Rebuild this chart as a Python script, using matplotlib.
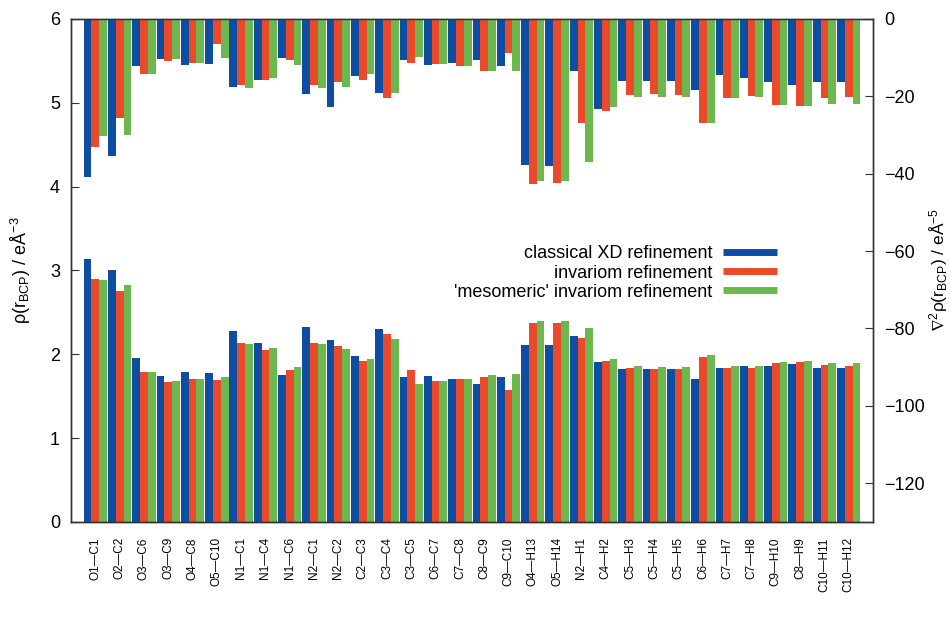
import numpy as np
import matplotlib
matplotlib.use("Agg")
import matplotlib.pyplot as plt
from matplotlib.lines import Line2D

plt.rcParams['font.family'] = ['Liberation Sans', 'DejaVu Sans']
plt.rcParams['mathtext.fontset'] = 'custom'
plt.rcParams['mathtext.rm'] = 'Liberation Sans'
plt.rcParams['mathtext.it'] = 'Liberation Sans:italic'
plt.rcParams['mathtext.fallback'] = 'stixsans'

bonds = ['O1—C1', 'O2—C2', 'O3—C6', 'O3—C9', 'O4—C8', 'O5—C10', 'N1—C1', 'N1—C4',
         'N1—C6', 'N2—C1', 'N2—C2', 'C2—C3', 'C3—C4', 'C3—C5', 'C6—C7', 'C7—C8',
         'C8—C9', 'C9—C10', 'O4—H13', 'O5—H14', 'N2—H1', 'C4—H2', 'C5—H3', 'C5—H4',
         'C5—H5', 'C6—H6', 'C7—H7', 'C7—H8', 'C9—H10', 'C8—H9', 'C10—H11', 'C10—H12']

# electron density at the bond critical point (e/Å^3)
rho_xd = [3.13, 3.00, 1.95, 1.74, 1.79, 1.77, 2.28, 2.13, 1.75, 2.32, 2.17, 1.98, 2.30, 1.73,
          1.74, 1.71, 1.65, 1.73, 2.11, 2.11, 2.22, 1.91, 1.82, 1.82, 1.82, 1.71, 1.84, 1.86,
          1.86, 1.88, 1.83, 1.84]
rho_inv = [2.90, 2.75, 1.79, 1.67, 1.70, 1.69, 2.13, 2.05, 1.81, 2.13, 2.10, 1.92, 2.24, 1.81,
           1.68, 1.71, 1.73, 1.57, 2.37, 2.37, 2.19, 1.92, 1.83, 1.82, 1.82, 1.97, 1.84, 1.84,
           1.90, 1.91, 1.87, 1.86]
rho_meso = [2.88, 2.83, 1.79, 1.68, 1.70, 1.73, 2.12, 2.07, 1.85, 2.12, 2.06, 1.94, 2.18, 1.64,
            1.68, 1.70, 1.75, 1.76, 2.39, 2.39, 2.31, 1.94, 1.86, 1.85, 1.85, 1.99, 1.86, 1.86,
            1.91, 1.92, 1.90, 1.90]

# Laplacian at the bond critical point (e/Å^5)
lap_xd = [-41.0, -35.5, -12.1, -10.5, -11.9, -11.8, -17.6, -15.8, -10.2, -19.5, -22.8, -14.9,
          -19.2, -10.6, -11.9, -11.4, -10.6, -12.3, -37.7, -38.0, -13.4, -23.3, -16.0, -16.0,
          -16.0, -18.5, -14.5, -15.3, -16.4, -17.1, -16.4, -16.4]
lap_inv = [-33.0, -25.6, -14.2, -10.8, -11.5, -6.4, -17.1, -15.7, -10.6, -17.0, -16.2, -15.9,
           -20.5, -11.3, -11.7, -12.1, -13.6, -8.8, -42.7, -42.3, -26.9, -23.7, -19.6, -19.4,
           -19.6, -26.9, -20.4, -20.0, -22.2, -22.6, -20.5, -20.1]
lap_meso = [-30.2, -30.0, -14.2, -10.5, -11.5, -10.2, -18.0, -15.2, -11.9, -17.9, -17.5, -14.3,
            -19.2, -9.9, -11.7, -12.1, -13.6, -13.4, -42.0, -41.9, -36.9, -22.8, -20.1, -20.1,
            -20.1, -26.9, -20.4, -20.1, -22.2, -22.6, -22.0, -22.0]

series_names = ['classical XD refinement', 'invariom refinement',
                "'mesomeric' invariom refinement"]
colors = ['#0d4ea3', '#ea4a29', '#6cb84f']

fig = plt.figure(figsize=(9.51, 6.28), dpi=100)
ax = fig.add_axes([0.0747, 0.169, 0.8433, 0.801])
ax2 = ax.twinx()

x = np.arange(len(bonds))
w = 0.32
offsets = [-w, 0.0, w]

for rho, off, c in zip([rho_xd, rho_inv, rho_meso], offsets, colors):
    ax.bar(x + off, rho, width=w, color=c, linewidth=0, align='center')
for lap, off, c in zip([lap_xd, lap_inv, lap_meso], offsets, colors):
    ax2.bar(x + off, lap, width=w, color=c, linewidth=0, align='center')

ax.set_xlim(-1, 32)
ax.set_ylim(0, 6)
ax2.set_ylim(-130, 0)
ax.set_yticks(range(0, 7))
ax2.set_yticks(range(-120, 1, 20))

ax.set_xticks(x)
ax.set_xticklabels(bonds, rotation=90, fontsize=8.5)
ax.tick_params(axis='x', length=0, pad=11)
ax.tick_params(axis='y', direction='in', length=6, labelsize=13, pad=8,
               left=True, right=False, color='#333333')
ax2.tick_params(axis='y', direction='in', length=6, labelsize=13, pad=8,
                right=True, left=False, color='#333333')

for a in (ax, ax2):
    for s in a.spines.values():
        s.set_color('#333333')
        s.set_linewidth(1.0)

ax.set_ylabel('ρ(r$_{\\mathrm{BCP}}$) / eÅ$^{-3}$', fontsize=13, labelpad=12)
ax2.set_ylabel('$\\nabla^{2}$ρ(r$_{\\mathrm{BCP}}$) / eÅ$^{-5}$', fontsize=12.5, labelpad=2)

handles = [Line2D([0], [0], color=c, lw=5, solid_capstyle='butt') for c in colors]
ax2.legend(handles, series_names, loc='center right',
           bbox_to_anchor=(777 / 951, 1 - 273 / 628), bbox_transform=fig.transFigure,
           frameon=False, markerfirst=False, fontsize=13, handlelength=3.0,
           handletextpad=0.6, labelspacing=0.12, borderpad=0, borderaxespad=0)

fig.savefig('out.png', dpi=100)
